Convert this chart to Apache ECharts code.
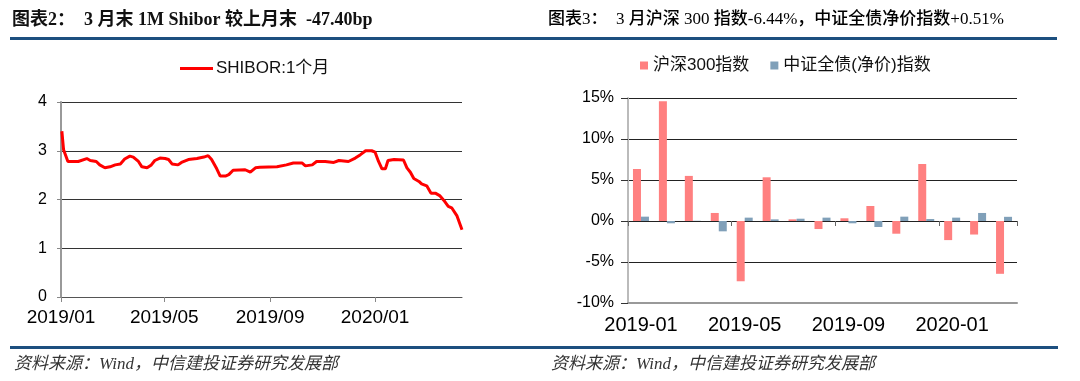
<!DOCTYPE html>
<html><head><meta charset="utf-8">
<script src="https://cdn.jsdelivr.net/npm/echarts@6/dist/echarts.min.js"></script>
<style>html,body{margin:0;padding:0;background:#fff}#c{width:1080px;height:381px}</style>
</head><body><div id="c"></div>
<script>
// ---- Left chart: SHIBOR 1M (key points) ----
const shiborDates = ['2019-01-02','2019-01-04','2019-01-09','2019-01-21','2019-01-31','2019-02-04','2019-02-11','2019-02-15','2019-02-21','2019-02-27',
'2019-03-05','2019-03-11','2019-03-16','2019-03-22','2019-03-26','2019-04-01','2019-04-05','2019-04-11','2019-04-16','2019-04-20',
'2019-04-26','2019-05-02','2019-05-06','2019-05-10','2019-05-17','2019-05-21','2019-05-29','2019-06-08','2019-06-16','2019-06-21',
'2019-06-25','2019-07-01','2019-07-05','2019-07-11','2019-07-15','2019-07-20','2019-08-03','2019-08-09','2019-08-15','2019-08-20',
'2019-09-09','2019-09-20','2019-09-28','2019-10-08','2019-10-12','2019-10-20','2019-10-25','2019-11-04','2019-11-14','2019-11-20',
'2019-12-01','2019-12-09','2019-12-15','2019-12-21','2019-12-28','2020-01-01','2020-01-05','2020-01-09','2020-01-13','2020-01-16',
'2020-01-23','2020-02-03','2020-02-07','2020-02-11','2020-02-15','2020-02-21','2020-02-24','2020-03-01','2020-03-06','2020-03-11',
'2020-03-16','2020-03-21','2020-03-26','2020-03-30','2020-04-05','2020-04-11'];
const shiborValues = [3.40,3.02,2.78,2.78,2.84,2.80,2.78,2.71,2.65,2.67,
2.71,2.73,2.83,2.89,2.87,2.78,2.67,2.65,2.71,2.80,
2.85,2.84,2.82,2.73,2.71,2.76,2.82,2.84,2.87,2.90,
2.82,2.63,2.48,2.48,2.51,2.60,2.61,2.56,2.65,2.66,
2.67,2.71,2.75,2.75,2.69,2.71,2.78,2.78,2.76,2.80,
2.78,2.85,2.92,3.00,3.00,2.97,2.78,2.63,2.63,2.80,
2.82,2.81,2.65,2.56,2.43,2.37,2.32,2.28,2.13,2.13,
2.08,1.98,1.86,1.83,1.67,1.38];
const shiborAxisStart = '2019-01-01';
const shiborAxisEnd = '2020-04-11';
const shiborTickDates = ['2019-01-01','2019-05-01','2019-09-01','2020-01-01'];

// ---- Right chart: monthly returns (%) ----
const months = ['2019-01','2019-02','2019-03','2019-04','2019-05','2019-06','2019-07','2019-08','2019-09','2019-10','2019-11','2019-12','2020-01','2020-02','2020-03'];
const hs300 = [6.34,14.61,5.50,0.98,-7.35,5.33,0.20,-0.98,0.33,1.83,-1.55,6.95,-2.33,-1.65,-6.44];
const bondIdx = [0.53,-0.28,0.03,-1.26,0.41,0.20,0.28,0.41,-0.28,-0.73,0.53,0.24,0.41,0.98,0.51];

function ts(s){const p=s.split('-').map(Number);return Date.UTC(p[0],p[1]-1,p[2]||1);}
function fmtMonth(v){const d=new Date(v);return d.getUTCFullYear()+'/'+String(d.getUTCMonth()+1).padStart(2,'0');}

const sans = "'Liberation Sans', Arial, 'Noto Sans CJK SC', sans-serif";
const cjk = "'Liberation Sans','Noto Sans CJK SC', sans-serif";
const titleFont = "'Liberation Serif','Noto Sans CJK SC', serif";

const chart = echarts.init(document.getElementById('c'), null, {renderer:'canvas'});
chart.setOption({
  animation:false,
  backgroundColor:'#fff',
  graphic:[
    {type:'text', left:12, top:11, style:{text:'图表2：  3 月末 1M Shibor 较上月末  -47.40bp', font:"bold 18px "+titleFont, fill:'#111'}},
    {type:'text', left:548, top:11, style:{text:'图表3：  3 月沪深 300 指数-6.44%，中证全债净价指数+0.51%', font:"500 17px "+titleFont, fill:'#000'}},
    {type:'rect', shape:{x:10,y:37,width:1047,height:3}, style:{fill:'#1d4f7f'}},
    {type:'rect', shape:{x:10,y:346,width:1048,height:3}, style:{fill:'#1d4f7f'}},
    {type:'text', left:14, top:356, style:{text:'资料来源：Wind，中信建投证券研究发展部', font:"italic 17px "+titleFont, fill:'#333'}},
    {type:'text', left:551, top:356, style:{text:'资料来源：Wind，中信建投证券研究发展部', font:"italic 17px "+titleFont, fill:'#333'}}
  ],
  legend:[
    {left:180, top:60, padding:0, icon:'rect', itemWidth:33, itemHeight:3, data:['SHIBOR:1个月'],
     textStyle:{fontFamily:cjk, fontSize:17, color:'#111', padding:[0,0,0,-2]}},
    {left:640, top:57, padding:0, icon:'rect', itemWidth:8, itemHeight:8, itemGap:21, data:['沪深300指数','中证全债(净价)指数'],
     textStyle:{fontFamily:cjk, fontSize:17, color:'#111'}}
  ],
  grid:[
    {left:61, top:102, width:401, height:195},
    {left:628, top:98, width:389, height:205}
  ],
  xAxis:[
    {type:'value', gridIndex:0, min:ts(shiborAxisStart), max:ts(shiborAxisEnd),
     axisLine:{show:true, onZero:false, lineStyle:{color:'#555', width:1}},
     axisTick:{show:true, length:5, lineStyle:{color:'#888'}, customValues:shiborTickDates.map(ts)},
     axisLabel:{customValues:shiborTickDates.map(ts), margin:11, fontFamily:sans, fontSize:19, color:'#000',
       hideOverlap:false, formatter:fmtMonth},
     splitLine:{show:false}},
    {type:'category', gridIndex:1, data:months, position:'bottom',
     axisLine:{show:true, onZero:false, lineStyle:{color:'#999', width:2}},
     axisTick:{show:false},
     axisLabel:{interval:3, margin:12, fontFamily:sans, fontSize:20, color:'#000'}},
    {type:'category', gridIndex:1, data:months, position:'bottom',
     axisLine:{show:true, onZero:true, lineStyle:{color:'#222', width:1}},
     axisTick:{show:true, interval:3, length:5, lineStyle:{color:'#666'}},
     axisLabel:{show:false}}
  ],
  yAxis:[
    {type:'value', gridIndex:0, min:0, max:4, interval:1,
     axisLine:{show:true, lineStyle:{color:'#999', width:2}},
     axisTick:{show:true, length:4, lineStyle:{color:'#888'}},
     axisLabel:{margin:14, fontFamily:sans, fontSize:16, color:'#000'},
     splitLine:{lineStyle:{color:'#333', width:1}}},
    {type:'value', gridIndex:1, min:-10, max:15, interval:5,
     axisLine:{show:true, lineStyle:{color:'#bbb', width:2}},
     axisTick:{show:true, length:7, lineStyle:{color:'#333'}},
     axisLabel:{margin:14, fontFamily:sans, fontSize:16, color:'#000', formatter:'{value}%'},
     splitLine:{lineStyle:{color:'#222', width:1}}}
  ],
  series:[
    {name:'SHIBOR:1个月', type:'line', xAxisIndex:0, yAxisIndex:0, showSymbol:false, symbol:'none',
     lineStyle:{color:'#ff0000', width:3}, itemStyle:{color:'#ff0000'},
     data:shiborDates.map((d,i)=>[ts(d), shiborValues[i]])},
    {name:'沪深300指数', type:'bar', xAxisIndex:1, yAxisIndex:1, barWidth:8, barGap:'0%',
     itemStyle:{color:'#ff8080'}, data:hs300},
    {name:'中证全债(净价)指数', type:'bar', xAxisIndex:1, yAxisIndex:1, barWidth:8, barGap:'0%',
     itemStyle:{color:'#80a0b9'}, data:bondIdx}
  ]
});
</script></body></html>
